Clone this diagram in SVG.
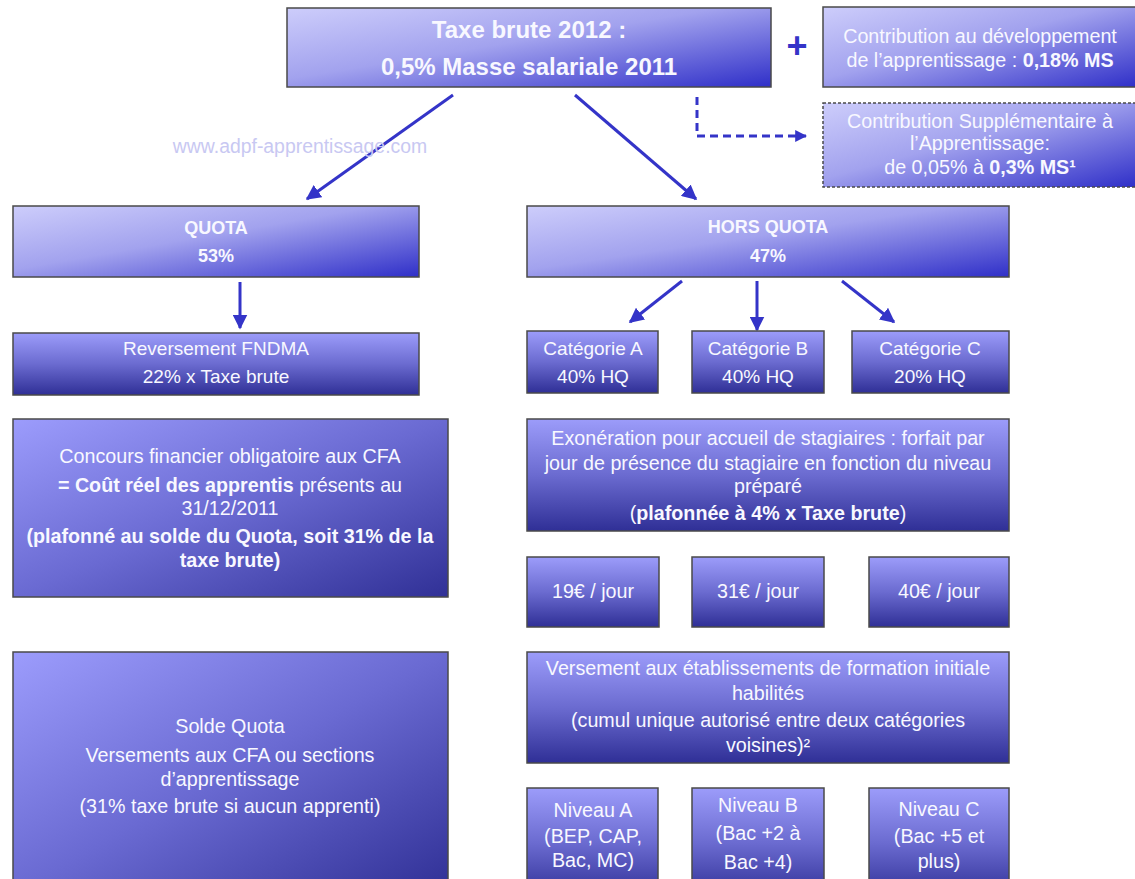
<svg xmlns="http://www.w3.org/2000/svg" width="1135" height="879" viewBox="0 0 1135 879">
<defs>
<linearGradient id="gDiag" x1="0" y1="0" x2="1" y2="1">
<stop offset="0" stop-color="#cdcdfb"/>
<stop offset="0.45" stop-color="#a2a2ee"/>
<stop offset="1" stop-color="#2f2fc8"/>
</linearGradient>
<linearGradient id="gVert" x1="0" y1="0" x2="0" y2="1">
<stop offset="0" stop-color="#9c9cfa"/>
<stop offset="0.5" stop-color="#6b6bd0"/>
<stop offset="1" stop-color="#2f2f96"/>
</linearGradient>
<linearGradient id="gBig" x1="0" y1="0" x2="1" y2="1">
<stop offset="0" stop-color="#9c9cfc"/>
<stop offset="0.5" stop-color="#6a6ad2"/>
<stop offset="1" stop-color="#303096"/>
</linearGradient>
<marker id="ah" viewBox="0 0 10 10" refX="9" refY="5" markerWidth="5" markerHeight="5" orient="auto" markerUnits="strokeWidth">
<path d="M0,0 L10,5 L0,10 z" fill="#3434c8"/>
</marker>
<marker id="ah2" viewBox="0 0 10 10" refX="9" refY="5" markerWidth="4" markerHeight="4" orient="auto" markerUnits="strokeWidth">
<path d="M0,0 L10,5 L0,10 z" fill="#3434c8"/>
</marker>
</defs>
<style>
rect.box{stroke:#4a4a4a;stroke-width:1.5}
rect.d{fill:url(#gDiag)}
rect.v{fill:url(#gVert)}
rect.b{fill:url(#gBig)}
text{font-family:"Liberation Sans",Arial,sans-serif;fill:#f8f8ff;text-anchor:middle;font-size:19.7px}
.bold{font-weight:bold}
.cat{font-size:19px}
.conn{stroke:#3434c8;stroke-width:3;fill:none}
</style>
<rect width="1135" height="879" fill="#ffffff"/>

<g id="connectors">
<line class="conn" x1="453" y1="95" x2="307" y2="199" marker-end="url(#ah)"/>
<line class="conn" x1="575" y1="95" x2="696" y2="199" marker-end="url(#ah)"/>
<polyline points="697,97 697,136 806,136" fill="none" stroke="#3434c8" stroke-width="3" stroke-dasharray="8,5" marker-end="url(#ah2)"/>
<line class="conn" x1="240" y1="282" x2="240" y2="328" marker-end="url(#ah)"/>
<line class="conn" x1="682" y1="281" x2="630" y2="322" marker-end="url(#ah)"/>
<line class="conn" x1="757" y1="281" x2="757" y2="330" marker-end="url(#ah)"/>
<line class="conn" x1="842" y1="281" x2="894" y2="322" marker-end="url(#ah)"/>
</g>

<text x="797" y="58" class="bold" style="fill:#3434c8;font-size:36px">+</text>
<text x="300" y="153" style="fill:#c8c8f2;font-size:19.4px">www.adpf-apprentissage.com</text>

<g id="taxe">
<rect class="box d" x="287" y="8" width="484" height="79"/>
<text x="529" y="38" class="bold" style="font-size:24px">Taxe brute 2012 :</text>
<text x="529" y="75" class="bold" style="font-size:24px">0,5% Masse salariale 2011</text>
</g>

<g id="cda">
<rect class="box d" x="823" y="7" width="314" height="80"/>
<text x="980" y="43">Contribution au développement</text>
<text x="980" y="67">de l’apprentissage : <tspan class="bold">0,18% MS</tspan></text>
</g>

<g id="csa">
<rect x="823" y="103" width="314" height="84" fill="url(#gDiag)" stroke="#4a4a4a" stroke-width="1.5" stroke-dasharray="3,2"/>
<text x="980" y="128">Contribution Supplémentaire à</text>
<text x="980" y="150">l’Apprentissage:</text>
<text x="980" y="174">de 0,05% à <tspan class="bold">0,3% MS¹</tspan></text>
</g>

<g id="quota">
<rect class="box d" x="13" y="206" width="406" height="71"/>
<text x="216" y="234" class="bold" style="font-size:18px">QUOTA</text>
<text x="216" y="262" class="bold" style="font-size:18px">53%</text>
</g>

<g id="horsquota">
<rect class="box d" x="527" y="206" width="482" height="71"/>
<text x="768" y="233" class="bold" style="font-size:18px">HORS QUOTA</text>
<text x="768" y="262" class="bold" style="font-size:18px">47%</text>
</g>

<g id="fndma">
<rect class="box v" x="13" y="333" width="406" height="62"/>
<text x="216" y="355" class="cat">Reversement FNDMA</text>
<text x="216" y="383" class="cat">22% x Taxe brute</text>
</g>

<g id="catA">
<rect class="box v" x="527" y="331" width="131" height="62"/>
<text x="593" y="355" class="cat">Catégorie A</text>
<text x="593" y="383" class="cat">40% HQ</text>
</g>
<g id="catB">
<rect class="box v" x="692" y="331" width="132" height="62"/>
<text x="758" y="355" class="cat">Catégorie B</text>
<text x="758" y="383" class="cat">40% HQ</text>
</g>
<g id="catC">
<rect class="box v" x="852" y="331" width="157" height="62"/>
<text x="930" y="355" class="cat">Catégorie C</text>
<text x="930" y="383" class="cat">20% HQ</text>
</g>

<g id="concours">
<rect class="box b" x="13" y="419" width="435" height="178"/>
<text x="230" y="463">Concours financier obligatoire aux CFA</text>
<text x="230" y="492"><tspan class="bold">= Coût réel des apprentis</tspan> présents au</text>
<text x="230" y="515">31/12/2011</text>
<text x="230" y="543" class="bold">(plafonné au solde du Quota, soit 31% de la</text>
<text x="230" y="567" class="bold">taxe brute)</text>
</g>

<g id="exoneration">
<rect class="box v" x="527" y="419" width="482" height="112"/>
<text x="768" y="445">Exonération pour accueil de stagiaires  : forfait par</text>
<text x="768" y="470">jour de présence du stagiaire en fonction du niveau</text>
<text x="768" y="493">préparé</text>
<text x="768" y="520">(<tspan class="bold">plafonnée à 4% x Taxe brute</tspan>)</text>
</g>

<g id="e19">
<rect class="box v" x="527" y="557" width="132" height="70"/>
<text x="593" y="598">19€ / jour</text>
</g>
<g id="e31">
<rect class="box v" x="692" y="557" width="132" height="70"/>
<text x="758" y="598">31€ / jour</text>
</g>
<g id="e40">
<rect class="box v" x="869" y="557" width="140" height="70"/>
<text x="939" y="598">40€ / jour</text>
</g>

<g id="solde">
<rect class="box b" x="13" y="652" width="435" height="240"/>
<text x="230" y="733">Solde Quota</text>
<text x="230" y="762">Versements aux CFA ou sections</text>
<text x="230" y="786">d’apprentissage</text>
<text x="230" y="813">(31% taxe brute si aucun apprenti)</text>
</g>

<g id="versement">
<rect class="box v" x="527" y="652" width="482" height="111"/>
<text x="768" y="675">Versement aux établissements de formation initiale</text>
<text x="768" y="700">habilités</text>
<text x="768" y="727">(cumul unique autorisé entre deux catégories</text>
<text x="768" y="752">voisines)²</text>
</g>

<g id="nivA">
<rect class="box v" x="527" y="788" width="131" height="110"/>
<text x="593" y="817">Niveau A</text>
<text x="593" y="843">(BEP, CAP,</text>
<text x="593" y="867">Bac, MC)</text>
</g>
<g id="nivB">
<rect class="box v" x="692" y="788" width="132" height="110"/>
<text x="758" y="812">Niveau B</text>
<text x="758" y="840">(Bac +2 à</text>
<text x="758" y="869">Bac +4)</text>
</g>
<g id="nivC">
<rect class="box v" x="869" y="788" width="140" height="110"/>
<text x="939" y="816">Niveau C</text>
<text x="939" y="843">(Bac +5 et</text>
<text x="939" y="868">plus)</text>
</g>
</svg>
